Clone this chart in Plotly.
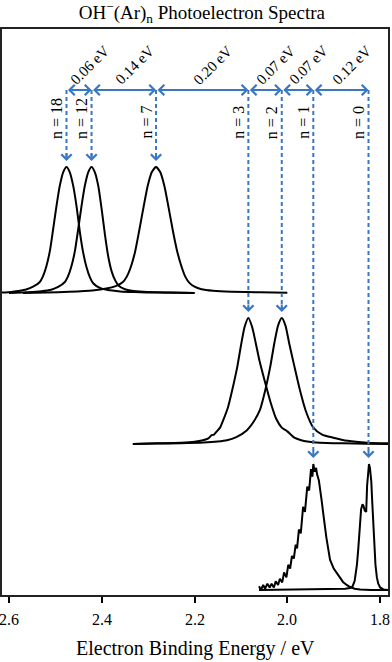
import plotly.graph_objects as go

# ---------------- data ----------------
x_ticks = [2.6, 2.4, 2.2, 2.0, 1.8]
tick_labels = ["2.6", "2.4", "2.2", "2.0", "1.8"]

cluster_n = [18, 12, 7, 3, 2, 1, 0]
peak_ebe = [2.476, 2.422, 2.283, 2.084, 2.012, 1.944, 1.825]
peak_group = [0, 0, 0, 1, 1, 2, 2]
gap_labels = ["0.06 eV", "0.14 eV", "0.20 eV", "0.07 eV", "0.07 eV", "0.12 eV"]

group_offsets = [302, 151, 5]
peak_scale = 126

ebe_n18 = [2.615, 2.595, 2.58, 2.563, 2.548, 2.534, 2.527, 2.5195, 2.512, 2.505, 2.498, 2.4905, 2.483,
           2.476, 2.469, 2.4615, 2.454, 2.447, 2.44, 2.4325, 2.425, 2.418, 2.404, 2.389, 2.36, 2.33, 2.28, 2.2]
int_n18 = [0.003, 0.008, 0.016, 0.028, 0.05, 0.085, 0.13, 0.21, 0.33, 0.5, 0.68, 0.85, 0.96,
           1.0, 0.96, 0.85, 0.68, 0.48, 0.32, 0.2, 0.12, 0.075, 0.04, 0.025, 0.012, 0.007, 0.003, 0.0]

ebe_n12 = [2.6, 2.56, 2.53, 2.509, 2.494, 2.48, 2.473, 2.4655, 2.458, 2.451, 2.444, 2.4365, 2.429,
           2.422, 2.415, 2.4075, 2.4, 2.393, 2.386, 2.3785, 2.371, 2.364, 2.35, 2.335, 2.31, 2.28, 2.25, 2.2]
int_n12 = [0.0, 0.006, 0.014, 0.026, 0.048, 0.085, 0.13, 0.21, 0.33, 0.5, 0.68, 0.85, 0.96,
           1.0, 0.96, 0.85, 0.66, 0.46, 0.29, 0.17, 0.1, 0.06, 0.03, 0.018, 0.01, 0.006, 0.003, 0.0]

ebe_n7 = [2.57, 2.52, 2.47, 2.42, 2.39, 2.37, 2.355, 2.346, 2.337, 2.328, 2.319, 2.31, 2.301, 2.292,
          2.283, 2.274, 2.265, 2.256, 2.247, 2.238, 2.229, 2.22, 2.211, 2.2, 2.185, 2.16, 2.12, 2.06, 2.0]
int_n7 = [0.0, 0.004, 0.01, 0.02, 0.035, 0.055, 0.085, 0.13, 0.21, 0.33, 0.5, 0.68, 0.85, 0.96,
          1.0, 0.96, 0.85, 0.68, 0.5, 0.34, 0.22, 0.13, 0.08, 0.05, 0.03, 0.018, 0.01, 0.005, 0.002]

ebe_n3 = [2.333, 2.28, 2.23, 2.2, 2.182, 2.17, 2.163, 2.158, 2.152, 2.145, 2.137, 2.128, 2.118, 2.108,
          2.1, 2.092, 2.084, 2.076, 2.068, 2.06, 2.048, 2.036, 2.024, 2.012, 2.0, 1.985, 1.97, 1.957,
          1.93, 1.88, 1.83, 1.783]
int_n3 = [0.0, 0.005, 0.01, 0.018, 0.03, 0.045, 0.07, 0.075, 0.1, 0.13, 0.2, 0.29, 0.44, 0.61,
          0.78, 0.93, 1.0, 0.93, 0.8, 0.66, 0.49, 0.33, 0.2, 0.13, 0.1, 0.05, 0.03, 0.02,
          0.01, 0.005, 0.002, 0.0]

ebe_n2 = [2.333, 2.28, 2.23, 2.18, 2.15, 2.13, 2.11, 2.087, 2.072, 2.059, 2.048, 2.037, 2.028, 2.02,
          2.012, 2.004, 1.996, 1.985, 1.973, 1.96, 1.944, 1.925, 1.901, 1.87, 1.828, 1.783]
int_n2 = [0.0, 0.003, 0.006, 0.012, 0.02, 0.03, 0.055, 0.11, 0.18, 0.27, 0.42, 0.61, 0.8, 0.94,
          1.0, 0.94, 0.8, 0.62, 0.43, 0.26, 0.13, 0.075, 0.05, 0.025, 0.01, 0.005]

ebe_n1 = [2.061, 2.057, 2.052, 2.048, 2.043, 2.038, 2.034, 2.029, 2.025, 2.02, 2.016, 2.011, 2.007,
          2.002, 1.998, 1.994, 1.99, 1.986, 1.982, 1.979, 1.975, 1.971, 1.966, 1.962, 1.957, 1.953,
          1.949, 1.946, 1.944, 1.941, 1.938, 1.936, 1.932, 1.929, 1.926, 1.923, 1.92, 1.916, 1.912,
          1.908, 1.9, 1.893, 1.886, 1.88, 1.872, 1.865, 1.855, 1.843, 1.82, 1.8, 1.783]
int_n1 = [0.03, 0.0, 0.04, 0.01, 0.05, 0.02, 0.05, 0.02, 0.07, 0.04, 0.09, 0.06, 0.14,
          0.1, 0.2, 0.17, 0.27, 0.25, 0.36, 0.33, 0.48, 0.45, 0.66, 0.62, 0.82, 0.79,
          0.96, 0.9, 1.0, 0.94, 0.97, 0.92, 0.87, 0.8, 0.71, 0.62, 0.52, 0.42, 0.33,
          0.24, 0.17, 0.136, 0.1, 0.064, 0.04, 0.024, 0.01, 0.004, 0.0, 0.0, 0.0]

ebe_n0 = [2.061, 2.0, 1.95, 1.9, 1.875, 1.865, 1.86, 1.855, 1.85, 1.847, 1.845, 1.843, 1.841, 1.838,
          1.836, 1.833, 1.83, 1.828, 1.826, 1.824, 1.822, 1.819, 1.817, 1.815, 1.812, 1.81, 1.807,
          1.804, 1.8, 1.793, 1.783]
int_n0 = [0.0, 0.002, 0.004, 0.006, 0.01, 0.015, 0.024, 0.07, 0.2, 0.33, 0.47, 0.58, 0.64, 0.68,
          0.67, 0.63, 0.62, 0.83, 0.96, 1.0, 0.97, 0.86, 0.7, 0.52, 0.33, 0.2, 0.1,
          0.05, 0.02, 0.005, 0.0]

spectra_ebe = [ebe_n18, ebe_n12, ebe_n7, ebe_n3, ebe_n2, ebe_n1, ebe_n0]
spectra_int = [int_n18, int_n12, int_n7, int_n3, int_n2, int_n1, int_n0]

# ---------------- styling / layout constants ----------------
BLUE = "#3A77C2"
FONT = "Liberation Serif, Times New Roman, serif"
ARROW_Y = 505
LABEL_Y = 454
TIP_GAP = 6
smooth_shape = [True, True, True, True, True, False, False]

fig = go.Figure()

for E, I, g, sm in zip(spectra_ebe, spectra_int, peak_group, smooth_shape):
    y = [group_offsets[g] + peak_scale * v for v in I]
    line = dict(color="black", width=2)
    if sm:
        line.update(shape="spline", smoothing=0.6)
    fig.add_trace(go.Scatter(x=E, y=y, mode="lines", line=line,
                             hoverinfo="skip", showlegend=False))

# dashed vertical shafts with open arrowheads
for pe, g in zip(peak_ebe, peak_group):
    tip = group_offsets[g] + peak_scale + TIP_GAP
    fig.add_trace(go.Scatter(x=[pe, pe], y=[ARROW_Y, tip + 2], mode="lines",
                             line=dict(color=BLUE, width=2, dash="4px,3px"),
                             hoverinfo="skip", showlegend=False))
    fig.add_annotation(x=pe, y=tip, ax=pe, ay=tip + 9, xref="x", yref="y",
                       axref="x", ayref="y", text="", showarrow=True,
                       arrowhead=4, arrowsize=1, arrowwidth=2, arrowcolor=BLUE)

# horizontal double-headed arrows and gap labels
for i, lab in enumerate(gap_labels):
    fig.add_annotation(x=peak_ebe[i + 1], y=ARROW_Y, ax=peak_ebe[i], ay=ARROW_Y,
                       xref="x", yref="y", axref="x", ayref="y", text="",
                       showarrow=True, arrowside="end+start", arrowhead=4,
                       startarrowhead=4, arrowsize=1, startarrowsize=1,
                       arrowwidth=2, arrowcolor=BLUE)
    fig.add_annotation(x=(peak_ebe[i] + peak_ebe[i + 1]) / 2, y=ARROW_Y,
                       xref="x", yref="y", text=lab, showarrow=False,
                       textangle=-45, xshift=11, yshift=25,
                       font=dict(family=FONT, size=15, color="black"))

# n labels
for n, pe in zip(cluster_n, peak_ebe):
    fig.add_annotation(x=pe, y=LABEL_Y, xref="x", yref="y", text=f"n = {n}",
                       showarrow=False, textangle=-90, xshift=-10, yanchor="bottom",
                       font=dict(family=FONT, size=16, color="black"))

# tick labels (as annotations so the edge label is not dropped)
for tv, tl in zip(x_ticks, tick_labels):
    fig.add_annotation(x=tv, y=0, xref="x", yref="paper", text=tl, showarrow=False,
                       yanchor="middle", yshift=-24,
                       font=dict(family=FONT, size=16, color="black"))

# axis title
fig.add_annotation(x=0.5, y=0, xref="paper", yref="paper",
                   text="Electron Binding Energy / eV", showarrow=False,
                   yanchor="middle", yshift=-53,
                   font=dict(family=FONT, size=20, color="black"))

fig.update_layout(
    width=392, height=662,
    margin=dict(l=2, r=4, t=29, b=67),
    paper_bgcolor="white", plot_bgcolor="white",
    title=dict(text="OH<sup>−</sup>(Ar)<sub>n</sub> Photoelectron Spectra",
               x=0.515, xanchor="center", y=1 - 12 / 662, yanchor="middle",
               font=dict(family=FONT, size=19, color="black")),
    xaxis=dict(range=[2.615, 1.783], tickvals=x_ticks, showticklabels=False,
               ticks="outside", ticklen=6, tickwidth=1.5, tickcolor="black",
               showline=True, linecolor="#222", linewidth=1.8, mirror=True,
               showgrid=False, zeroline=False),
    yaxis=dict(range=[0, 566], showline=True, linecolor="#222", linewidth=1.8,
               mirror=True, showticklabels=False, ticks="", showgrid=False,
               zeroline=False),
)

fig.write_html("out.html", config={"displayModeBar": False})
